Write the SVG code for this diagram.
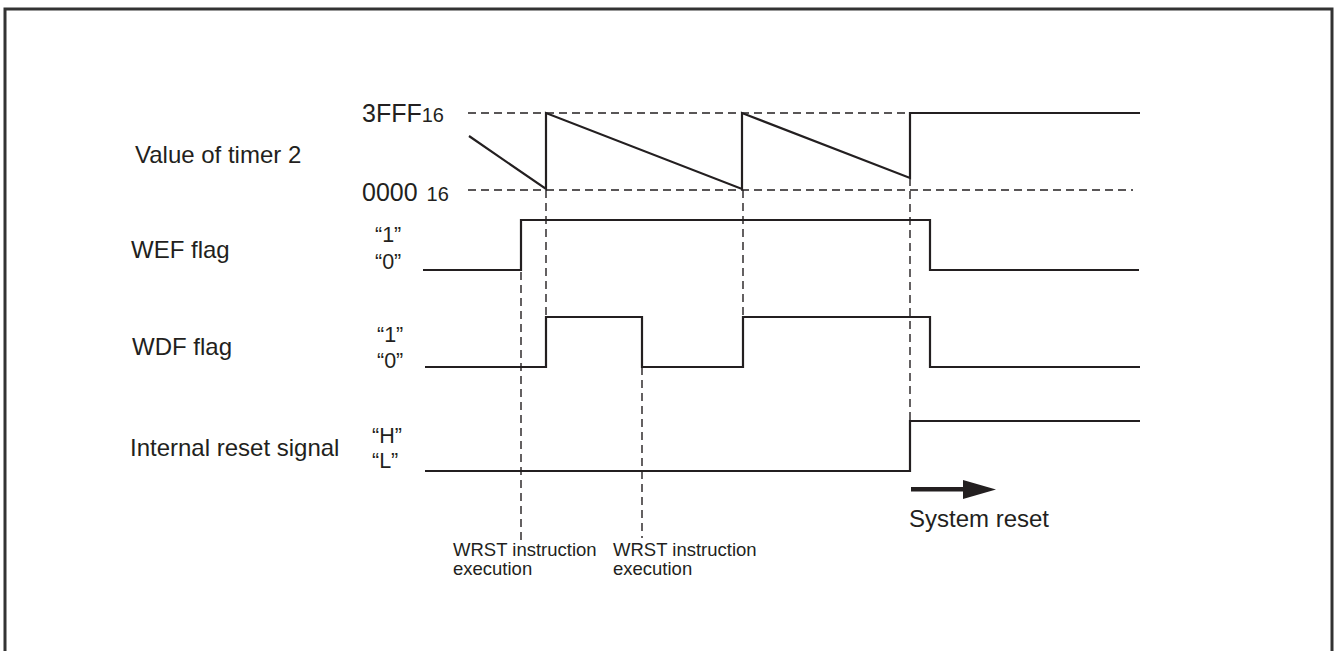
<svg xmlns="http://www.w3.org/2000/svg" width="1335" height="651" viewBox="0 0 1335 651">
<style>
text{font-family:"Liberation Sans",Arial,sans-serif;fill:#231f20}
.lbl{font-size:24px}
.big{font-size:25px}
.st{font-size:21.5px}
.sub{font-size:20px}
.sm{font-size:18.5px}
.sig{fill:none;stroke:#231f20;stroke-width:2.2;stroke-linejoin:miter}
.dash{fill:none;stroke:#231f20;stroke-width:1.4;stroke-dasharray:8 5}
</style>
<rect x="5" y="9" width="1327" height="700" fill="#fff" stroke="#333" stroke-width="3"/>
<g id="labels">
<text class="lbl" x="135" y="163">Value of timer 2</text>
<text class="lbl" x="131" y="258">WEF flag</text>
<text class="lbl" x="132" y="355">WDF flag</text>
<text class="lbl" x="130" y="456">Internal reset signal</text>
</g>
<g id="timer2">
<text class="big" x="362" y="122">3FFF<tspan class="sub">16</tspan></text>
<text class="big" x="362" y="201">0000 <tspan class="sub" dx="2">16</tspan></text>
<path class="sig" d="M469,136 L546,189 V113 L742,189 V113 L910,178 V113 H1140"/>
</g>
<g id="wef">
<text class="st" x="375" y="242">“1”</text>
<text class="st" x="375" y="269">“0”</text>
<path class="sig" d="M423,270 H521 V220 H930 V270 H1139"/>
</g>
<g id="wdf">
<text class="st" x="377" y="342">“1”</text>
<text class="st" x="377" y="368">“0”</text>
<path class="sig" d="M425,367 H546 V317 H642 V367 H743 V317 H930 V367 H1140"/>
</g>
<g id="reset">
<text class="st" x="372" y="443">“H”</text>
<text class="st" x="372" y="468">“L”</text>
<path class="sig" d="M425,471 H910 V421 H1140"/>
</g>
<g id="connectors">
<line class="dash" x1="468" y1="113" x2="910" y2="113"/>
<line class="dash" x1="468" y1="190" x2="1133" y2="190"/>
<line class="dash" x1="521" y1="272" x2="521" y2="540"/>
<line class="dash" x1="546" y1="190" x2="546" y2="317"/>
<line class="dash" x1="642" y1="367" x2="642" y2="538"/>
<line class="dash" x1="743" y1="190" x2="743" y2="317"/>
<line class="dash" x1="910" y1="178" x2="910" y2="421"/>
</g>
<g id="system-reset">
<rect x="911" y="487" width="53" height="4.5" fill="#231f20"/>
<polygon points="963,480 996,489.5 963,499" fill="#231f20"/>
<text class="lbl" x="909" y="527">System reset</text>
</g>
<g id="wrst1">
<text class="sm" x="453" y="556">WRST instruction</text>
<text class="sm" x="453" y="575">execution</text>
</g>
<g id="wrst2">
<text class="sm" x="613" y="556">WRST instruction</text>
<text class="sm" x="613" y="575">execution</text>
</g>
</svg>
